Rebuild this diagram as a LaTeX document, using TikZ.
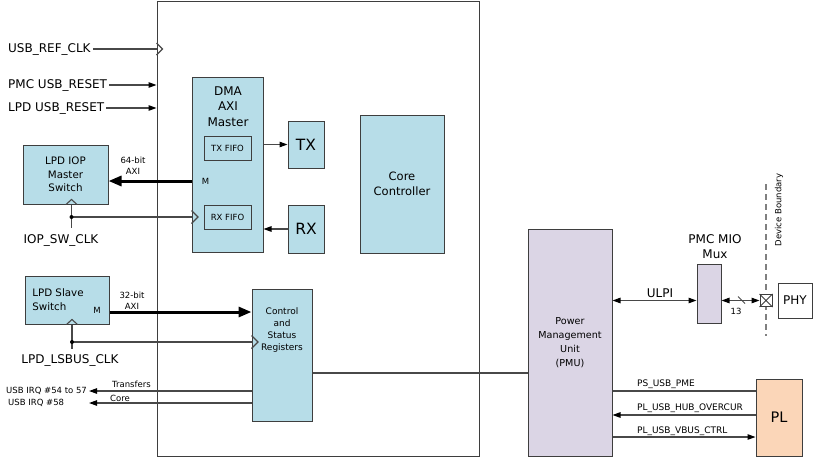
\documentclass[tikz,border=0pt]{standalone}
\usepackage{fontspec}
\setmainfont{DejaVu Sans}
\usepackage{tikz}
\usetikzlibrary{arrows.meta}
\definecolor{usbblue}{RGB}{183,221,232}
\definecolor{pmulilac}{RGB}{219,213,229}
\definecolor{plpeach}{RGB}{251,214,184}
\definecolor{edgegray}{RGB}{62,62,62}
\definecolor{wiregray}{RGB}{72,72,72}

\begin{document}
\begin{tikzpicture}[x=1pt, y=-1pt,
    blk/.style={draw=edgegray, line width=1pt, rectangle, fill=usbblue, align=center},
    wire/.style={draw=wiregray, line width=1.1pt},
    arr/.style={-{Triangle[length=8pt,width=5.5pt,color=black]}},
    biarr/.style={{Triangle[length=8pt,width=5.5pt,color=black]}-{Triangle[length=8pt,width=5.5pt,color=black]}},
    busarr/.style={line width=3pt, -{Triangle[length=13pt,width=10pt]}},
    lbl/.style={font=\fontsize{12}{15.5}\selectfont, align=center, inner sep=2pt},
    boxtxt/.style={font=\fontsize{10.3}{13.5}\selectfont, align=center},
    small/.style={font=\fontsize{8.5}{11}\selectfont, align=center, inner sep=2pt},
    sig/.style={font=\fontsize{9}{11}\selectfont, inner sep=1pt}]
    \useasboundingbox (0, 0) rectangle (816, 461);

    % USB controller outline
    \node[draw=edgegray, line width=1pt, minimum width=322, minimum height=455] (usb) at (318, 228.5) {};

    % Clock and reset inputs
    \node[lbl, anchor=west] (refclk) at (6, 49) {USB\_REF\_CLK};
    \node[lbl, anchor=west] (pmcrst) at (6, 85) {PMC USB\_RESET};
    \node[lbl, anchor=west] (lpdrst) at (6, 108) {LPD USB\_RESET};
    \draw[wire] (refclk.east) -- (refclk.east -| usb.west);
    \draw[wire] (usb.west |- refclk) ++(0, -6) -- ++(6, 6) -- ++(-6, 6);
    \draw[wire, arr] (pmcrst.east) -- (pmcrst.east -| usb.west);
    \draw[wire, arr] (lpdrst.east) -- (lpdrst.east -| usb.west);

    % DMA master
    \node[blk, minimum width=71, minimum height=175] (dma) at (227.5, 164.5) {};
    \node[lbl] (dmatxt) at (228, 106.5) {DMA\\AXI\\Master};
    \node[blk, small, minimum width=47, minimum height=24] (txfifo) at (227.5, 148) {TX FIFO};
    \node[blk, small, minimum width=47, minimum height=24] (rxfifo) at (227.5, 217) {RX FIFO};
    \node[small] (dmam) at (205.5, 181) {M};

    % TX / RX
    \node[blk, font=\fontsize{15.5}{18}\selectfont, minimum width=36, minimum height=47] (tx) at (306, 144.5) {TX};
    \node[blk, font=\fontsize{15.5}{18}\selectfont, minimum width=36, minimum height=48] (rx) at (306, 229) {RX};
    \draw[wire, arr] (dma.east |- tx) -- (tx.west);
    \draw[wire, arr] (rx.west) -- (dma.east |- rx);

    % Core controller
    \node[blk, font=\fontsize{11.5}{15}\selectfont, minimum width=84, minimum height=138] (corectl) at (402, 184) {Core\\Controller};

    % IOP master switch
    \node[blk, boxtxt, minimum width=85, minimum height=59] (iopsw) at (65.5, 174.5) {LPD IOP\\Master\\Switch};
    \node[small] (axi64) at (133, 165.5) {64-bit\\AXI};
    \draw[busarr] (dma.west |- dmam) -- (iopsw.east |- dmam);

    % IOP switch clock
    \coordinate (iopdot) at (71.5, 217);
    \node[lbl] (iopclk) at (61, 240) {IOP\_SW\_CLK};
    \draw[wire] (iopdot |- iopsw.south) -- ++(0, 23);
    \draw[wire] (iopdot |- iopsw.south) ++(-5.5, 0) -- ++(5.5, -5) -- ++(5.5, 5);
    \draw[wire] (iopdot) -- (iopdot -| dma.west);
    \draw[wire] (dma.west |- iopdot) ++(0, -6.5) -- ++(6.5, 6.5) -- ++(-6.5, 6.5);
    \fill[black] (iopdot) circle (2);

    % Slave switch
    \node[blk, minimum width=84, minimum height=48] (slavesw) at (67, 300) {};
    \node[boxtxt, align=left] (slavetxt) at (58, 299.5) {LPD Slave\\Switch};
    \node[small] (slavem) at (97, 310) {M};

    % Control and status registers
    \node[blk, minimum width=60, minimum height=132] (csr) at (282, 355) {};
    \node[font=\fontsize{9}{12.3}\selectfont, align=center] (csrtxt) at (282, 330) {Control\\and\\Status\\Registers};
    \coordinate (axi32) at (0, 312);
    \node[small] (axi32txt) at (132, 300.5) {32-bit\\AXI};
    \draw[busarr] (slavesw.east |- axi32) -- (csr.west |- axi32);

    % Slave switch clock
    \coordinate (lsdot) at (72, 342);
    \node[lbl] (lsclk) at (70, 360) {LPD\_LSBUS\_CLK};
    \draw[wire] (lsdot |- slavesw.south) -- ++(0, 24);
    \draw[wire] (lsdot |- slavesw.south) ++(-5.5, 0) -- ++(5.5, -5) -- ++(5.5, 5);
    \draw[wire] (lsdot) -- (lsdot -| csr.west);
    \draw[wire] (csr.west |- lsdot) ++(0, -6.5) -- ++(6.5, 6.5) -- ++(-6.5, 6.5);
    \fill[black] (lsdot) circle (2);

    % Interrupts
    \node[small, anchor=west] (irq1) at (4, 391) {USB IRQ \#54 to 57};
    \node[small, anchor=west] (irq2) at (6, 403) {USB IRQ \#58};
    \draw[wire, arr] (csr.west |- irq1) -- (irq1.east);
    \draw[wire, arr] (csr.west |- irq2) -- (irq1.east |- irq2);
    \node[small] (xferlbl) at (131.5, 384.5) {Transfers};
    \node[small] (corelbl) at (120, 398) {Core};

    % PMU
    \node[blk, fill=pmulilac, font=\fontsize{9.6}{14}\selectfont, minimum width=84, minimum height=227] (pmu) at (570, 342.5) {Power\\Management\\Unit\\(PMU)};
    \coordinate (csrpmu) at (0, 373);
    \draw[wire] (csr.east |- csrpmu) -- (pmu.west |- csrpmu);

    % PMC MIO mux
    \node[blk, fill=pmulilac, minimum width=24, minimum height=59] (mux) at (709, 293.5) {};
    \node[lbl] (muxtxt) at (715, 246.5) {PMC MIO\\Mux};
    \coordinate (ulpi) at (0, 300.5);
    \draw[wire, biarr] (pmu.east |- ulpi) -- (mux.west |- ulpi);
    \node[lbl] (ulpitxt) at (660, 293) {ULPI};

    % Device boundary
    \coordinate (bdtop) at (766, 184);
    \coordinate (bdbot) at (766, 336);
    \draw[gray, line width=1.8pt, dash pattern=on 6pt off 4pt] (bdtop) -- (bdbot);
    \node[small, rotate=90] (bdtxt) at (779, 210) {Device Boundary};

    % Pad and PHY
    \node[draw=edgegray, line width=1pt, fill=white, minimum size=12, inner sep=0] (pad) at (766, 300.5) {};
    \draw[edgegray, line width=0.8pt] (pad.north west) -- (pad.south east) (pad.north east) -- (pad.south west);
    \draw[wire, biarr] (mux.east |- pad) -- (pad.west);
    \draw[wire, line width=0.8pt] (738, 296.5) -- (745, 303.5);
    \node[small] (pinstxt) at (736, 311) {13};
    \node[draw=edgegray, line width=1pt, lbl, minimum width=34, minimum height=35] (phy) at (795, 300.5) {PHY};

    % PL
    \node[blk, fill=plpeach, font=\fontsize{14.5}{17}\selectfont, minimum width=46, minimum height=77] (pl) at (779, 417.5) {PL};
    \coordinate (pme) at (0, 391);
    \coordinate (ovc) at (0, 415);
    \coordinate (vbus) at (0, 437);
    \draw[wire] (pl.west |- pme) -- (pmu.east |- pme);
    \draw[wire, arr] (pl.west |- ovc) -- (pmu.east |- ovc);
    \draw[wire, arr] (pmu.east |- vbus) -- (pl.west |- vbus);
    \node[sig, anchor=west] (pmetxt) at (636, 384) {PS\_USB\_PME};
    \node[sig, anchor=west] (ovctxt) at (636, 408) {PL\_USB\_HUB\_OVERCUR};
    \node[sig, anchor=west] (vbustxt) at (636, 431) {PL\_USB\_VBUS\_CTRL};

\end{tikzpicture}
\end{document}
